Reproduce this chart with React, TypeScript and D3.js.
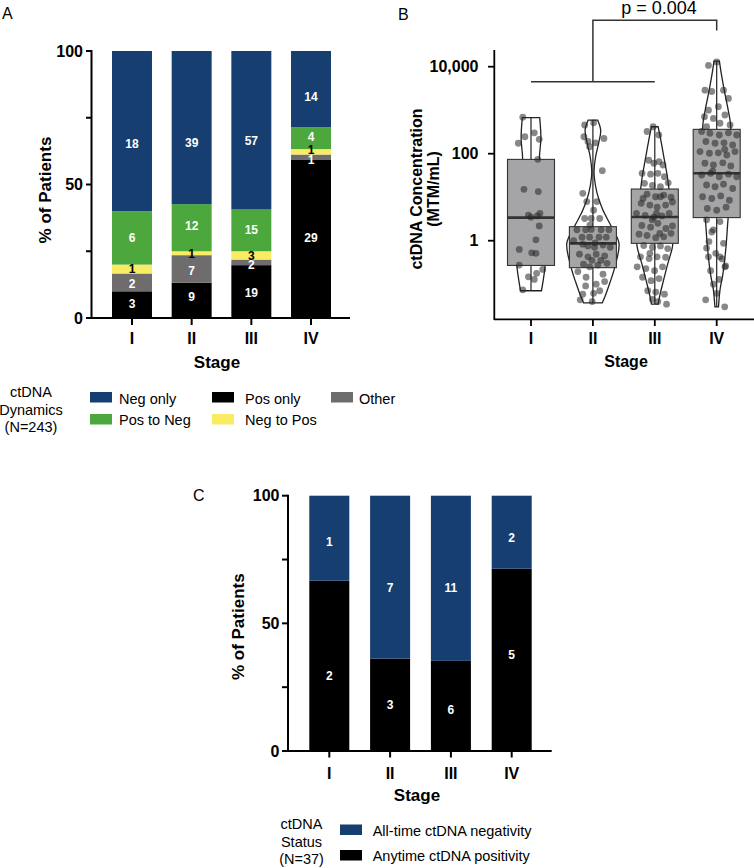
import React from 'react';
import * as d3 from 'd3';

// ---------- shared ----------
const stages = ['I', 'II', 'III', 'IV'];

// ---------- Panel A: ctDNA dynamics (counts per stage) ----------
const dynamicsKeys = ['posOnly', 'other', 'negToPos', 'posToNeg', 'negOnly'];
const dynamicsNames = ['Pos only', 'Other', 'Neg to Pos', 'Pos to Neg', 'Neg only'];
const posOnly = [3, 9, 19, 29];
const other = [2, 7, 2, 1];
const negToPos = [1, 1, 3, 1];
const posToNeg = [6, 12, 15, 4];
const negOnly = [18, 39, 57, 14];
// label positions (% of bar), as placed in the figure
const labelPctA = [
  [5.5, 12.8, 18.6, 29.9, 65.2],
  [8.0, 17.6, 24.0, 34.5, 65.8],
  [9.3, 19.9, 23.3, 33.0, 66.3],
  [30.2, 59.4, 62.9, 67.9, 82.9],
];
const percentTicks = [0, 25, 50, 75, 100];
const percentTickLabels = ['0', '', '50', '', '100'];

// ---------- Panel B: ctDNA concentration (log10 MTM/mL) ----------
const concTicks = [1, 100, 10000];
const q1 = [0.27, 0.24, 0.87, 3.4];
const medians = [3.4, 0.87, 3.5, 35.5];
const q3 = [74, 2.1, 15.4, 363];
// violin outline: [log10 value, relative half width]
const violinI = [[2.83, 0.29], [2.35, 0.33], [1.9, 0.28], [1.0, 0.33], [0, 0.43], [-0.56, 0.47], [-0.85, 0.42], [-1.15, 0.35]];
const violinII = [[2.77, 0.16], [2.54, 0.26], [2.24, 0.19], [1.93, 0.09], [1.63, 0.04], [1.47, 0.045], [1.09, 0.14], [0.71, 0.33], [0.32, 0.62], [-0.06, 0.87], [-0.63, 0.72], [-0.98, 0.56], [-1.29, 0.4], [-1.43, 0.31]];
const violinIII = [[2.62, 0.11], [2.28, 0.21], [1.89, 0.31], [1.51, 0.41], [1.2, 0.47], [0.59, 0.57], [-0.06, 0.6], [-0.17, 0.58], [-0.56, 0.42], [-0.94, 0.28], [-1.25, 0.17], [-1.46, 0.11]];
const violinIV = [[4.13, 0.09], [3.81, 0.16], [3.5, 0.24], [3.12, 0.35], [2.74, 0.45], [2.58, 0.47], [1.5, 0.53], [0.51, 0.38], [-0.14, 0.31], [-0.75, 0.21], [-1.13, 0.11], [-1.52, 0.06]];
// points: [jitter (fraction of box half width), log10 value]
const dotsI = [[-0.35, 2.84], [0.14, 2.48], [-0.26, 2.39], [0.35, 2.33], [-0.54, 2.24], [0.29, 1.87], [-0.3, 1.18], [0.31, 1.13], [-0.11, 0.59], [0, 0.54], [0.38, 0.63], [0.27, 0.57], [0.35, 0.34], [0.21, 0.02], [-0.5, -0.2], [0.03, -0.28], [0.21, -0.29], [-0.5, -0.56], [0.5, -0.66], [0.24, -0.75], [-0.11, -0.83], [0.14, -0.89], [-0.35, -1.13]];
const dotsII = [[-0.35, 2.66], [0.03, 2.71], [-0.38, 2.39], [-0.21, 2.28], [0.11, 2.25], [0.47, 2.35], [-0.14, 2.16], [0.4, 1.61], [-0.26, 0.9], [0.17, 0.9], [-0.43, 1.09], [0.03, 0.7], [-0.35, 0.51], [-0.07, 0.51], [0.29, 0.51], [-0.68, 0.25], [-0.31, 0.25], [-0.07, 0.26], [0.35, 0.25], [0.68, 0.25], [-0.46, 0.08], [-0.14, 0.08], [0.26, 0.08], [0.57, 0.08], [-0.82, 0.0], [-0.43, -0.08], [-0.21, -0.12], [0.07, -0.15], [0.43, -0.1], [0.74, -0.15], [-0.57, -0.31], [-0.21, -0.37], [0.14, -0.31], [0.5, -0.35], [-0.4, -0.54], [-0.14, -0.6], [0.21, -0.56], [0.6, -0.52], [-0.64, -0.71], [0.43, -0.77], [-0.29, -0.84], [0.14, -1.0], [0.5, -0.94], [-0.31, -1.04], [-0.43, -1.23], [0.03, -1.21], [0.29, -1.15], [-0.54, -1.36], [-0.03, -1.4], [-0.13, 0.36], [0.09, -0.05], [-0.04, -0.45], [0.34, -0.45]];
const dotsIII = [[-0.33, 2.51], [-0.07, 2.62], [0.17, 2.43], [-0.26, 1.85], [-0.04, 1.78], [0.18, 1.82], [0.35, 1.74], [-0.54, 1.55], [-0.18, 1.53], [0.13, 1.55], [0.41, 1.47], [-0.44, 1.32], [-0.1, 1.27], [0.24, 1.24], [0.57, 1.33], [-0.33, 1.07], [0.03, 1.01], [0.38, 1.05], [0.69, 1.0], [-0.58, 0.86], [-0.21, 0.82], [0.1, 0.77], [0.46, 0.82], [0.75, 0.89], [-0.78, 0.63], [-0.41, 0.58], [-0.04, 0.54], [0.3, 0.57], [0.61, 0.63], [-0.55, 0.35], [-0.18, 0.31], [0.13, 0.4], [0.47, 0.28], [0.75, 0.34], [-0.67, 0.15], [-0.33, 0.12], [0.04, 0.07], [0.38, 0.09], [0.69, 0.17], [-0.47, -0.11], [-0.1, -0.15], [0.24, -0.12], [0.55, -0.18], [-0.61, -0.37], [-0.24, -0.41], [0.1, -0.37], [0.46, -0.38], [-0.75, -0.6], [-0.38, -0.64], [-0.01, -0.69], [0.33, -0.6], [-0.52, -0.84], [-0.16, -0.92], [0.18, -0.87], [-0.3, -1.15], [0.04, -1.18], [0.41, -1.23], [-0.1, -1.35], [0.5, -1.46], [0.13, -1.4], [-0.5, 0.97], [0.24, 1.01], [-0.11, 0.48], [0.21, 0.17], [-0.21, -0.29], [0.07, 0.63]];
const dotsIV = [[0, 4.11], [-0.35, 4.03], [-0.5, 3.46], [-0.21, 3.43], [0.29, 3.46], [0.5, 3.27], [-0.35, 3.0], [0.07, 3.08], [-0.52, 2.85], [-0.14, 2.81], [0.35, 2.89], [0.57, 2.66], [-0.43, 2.62], [0.14, 2.7], [-0.64, 2.51], [-0.29, 2.47], [0.11, 2.43], [0.5, 2.48], [0.85, 2.43], [-0.46, 2.28], [-0.07, 2.24], [0.31, 2.25], [0.68, 2.2], [-0.71, 2.05], [-0.31, 2.01], [0.07, 2.02], [0.43, 1.97], [0.78, 2.05], [-0.5, 1.78], [-0.14, 1.74], [0.26, 1.79], [0.6, 1.72], [-0.64, 1.51], [-0.26, 1.55], [0.11, 1.47], [0.5, 1.53], [0.85, 1.47], [-0.43, 1.28], [-0.07, 1.24], [0.29, 1.3], [0.68, 1.2], [-0.6, 1.01], [-0.21, 0.97], [0.17, 1.03], [0.54, 0.93], [-0.4, 0.74], [0, 0.7], [0.4, 0.77], [-0.17, 1.6], [0.34, 2.1], [-0.43, 0.48], [0.14, 0.44], [-0.14, 0.25], [-0.33, -0.02], [-0.43, -0.17], [0.29, -0.06], [-0.04, -0.29], [0.23, -0.42], [0.38, -0.58], [-0.26, -0.69], [0.1, -0.89], [-0.14, -1.0], [-0.47, -1.36], [0.34, -1.52], [0.14, -0.37], [-0.35, -0.37], [0.35, -0.6], [0, -1.21], [-0.21, 0.2]];
const violins = [violinI, violinII, violinIII, violinIV];
const dots = [dotsI, dotsII, dotsIII, dotsIV];
const pText = 'p = 0.004';
// bracket levels (log10 of concentration scale)
const bracketLow = 3.655;
const bracketHigh = 5.07;
const bracketEnd = 4.83;

// ---------- Panel C: ctDNA status ----------
const posCounts = [2, 3, 6, 5];
const negCounts = [1, 7, 11, 2];
const posPct = [66.7, 36.2, 35.3, 71.4];
const labelPctCneg = [81.8, 64.0, 64.0, 83.6];
const labelPctCpos = [29.5, 18.0, 16.1, 37.9];

// ---------- styles ----------
const FONT = '"Liberation Sans", Arial, Helvetica, sans-serif';
const colors: Record<string, string> = {
  negOnly: '#173e70',
  posToNeg: '#4ca83d',
  negToPos: '#f9ec62',
  posOnly: '#000000',
  other: '#6e6c6d',
};
const labelColor: Record<string, string> = {
  negOnly: '#fff', posToNeg: '#fff', negToPos: '#000', posOnly: '#fff', other: '#fff',
};

function PanelA() {
  const x = d3.scaleBand<string>().domain(stages).range([112, 331]).paddingInner(0.33).paddingOuter(0);
  const y = d3.scaleLinear().domain([0, 100]).range([318, 51]);
  const rows = stages.map((s, i) => ({
    stage: s, posOnly: posOnly[i], other: other[i], negToPos: negToPos[i], posToNeg: posToNeg[i], negOnly: negOnly[i],
  }));
  const series = d3.stack<any>().keys(dynamicsKeys).offset(d3.stackOffsetExpand)(rows);
  return (
    <g>
      <text x={2} y={19} fontSize={16} fontFamily={FONT}>A</text>
      {series.map((ser, k) => ser.map((d, i) => (
        <rect key={ser.key + i} x={x(stages[i])} width={x.bandwidth()}
          y={y(d[1] * 100)} height={y(d[0] * 100) - y(d[1] * 100)} fill={colors[ser.key]} />
      )))}
      {series.map((ser, k) => ser.map((d, i) => (
        <text key={'l' + ser.key + i} x={(x(stages[i]) as number) + x.bandwidth() / 2}
          y={y(labelPctA[i][k])} dy="0.36em" textAnchor="middle" fontFamily={FONT}
          fontWeight="bold" fontSize={12} fill={labelColor[ser.key]}>
          {(rows[i] as any)[ser.key]}
        </text>
      )))}
      {/* axes */}
      <line x1={91.5} x2={91.5} y1={y(100) - 1} y2={y(0)} stroke="#000" strokeWidth={2} />
      <line x1={86} x2={350} y1={y(0)} y2={y(0)} stroke="#000" strokeWidth={2} />
      {percentTicks.map((t, i) => (
        <g key={t}>
          <line x1={86} x2={91.5} y1={y(t)} y2={y(t)} stroke="#000" strokeWidth={2} />
          <text x={83} y={y(t)} dy="0.36em" textAnchor="end" fontFamily={FONT} fontWeight="bold" fontSize={16}>{percentTickLabels[i]}</text>
        </g>
      ))}
      {stages.map(s => (
        <g key={s}>
          <line x1={(x(s) as number) + x.bandwidth() / 2} x2={(x(s) as number) + x.bandwidth() / 2} y1={y(0)} y2={y(0) + 7} stroke="#000" strokeWidth={2} />
          <text x={(x(s) as number) + x.bandwidth() / 2} y={344} textAnchor="middle" fontFamily={FONT} fontWeight="bold" fontSize={16}>{s}</text>
        </g>
      ))}
      <text x={217} y={368} textAnchor="middle" fontFamily={FONT} fontWeight="bold" fontSize={17}>Stage</text>
      <text transform="translate(45,190) rotate(-90)" dy="0.36em" textAnchor="middle" fontFamily={FONT} fontWeight="bold" fontSize={17}>% of Patients</text>
      {/* legend */}
      {['ctDNA', 'Dynamics', '(N=243)'].map((t, i) => (
        <text key={t} x={31} y={397 + i * 17.5} textAnchor="middle" fontFamily={FONT} fontSize={14.5}>{t}</text>
      ))}
      {[
        { key: 'negOnly', x: 90, row: 0 }, { key: 'posOnly', x: 212, row: 0 }, { key: 'other', x: 331, row: 0 },
        { key: 'posToNeg', x: 90, row: 1 }, { key: 'negToPos', x: 212, row: 1 },
      ].map(it => (
        <g key={it.key}>
          <rect x={it.x} y={392 + it.row * 22} width={22} height={10.5} fill={colors[it.key]} />
          <text x={it.x + (it.x === 90 ? 29 : it.x === 212 ? 33 : 28)} y={404 + it.row * 20.5} fontFamily={FONT} fontSize={14.5}>
            {dynamicsNames[dynamicsKeys.indexOf(it.key)]}
          </text>
        </g>
      ))}
    </g>
  );
}

function PanelB() {
  const x = d3.scalePoint<string>().domain(stages).range([531, 716.7]);
  const y = d3.scaleLog().domain([Math.pow(10, -1.8), Math.pow(10, 4.384)]).range([319, 50]);
  const w = d3.scaleLinear().domain([0, 1]).range([0, 30]);
  const boxHalf = 23.5;
  const fmt = d3.format(',');
  const yl = (l: number) => y(Math.pow(10, l));
  return (
    <g>
      <text x={398} y={20} fontSize={16} fontFamily={FONT}>B</text>
      {stages.map((s, i) => {
        const cx = x(s) as number;
        const prof = violins[i];
        const area = d3.area<number[]>()
          .y(d => yl(d[0]))
          .x0(d => cx - w(d[1]))
          .x1(d => cx + w(d[1]))
          .curve(d3.curveCatmullRom);
        return (
          <g key={s}>
            <path d={area(prof) as string} fill="#fff" stroke="#222" strokeWidth={1.3} />
            <line x1={cx} x2={cx} y1={yl(prof[0][0])} y2={yl(prof[prof.length - 1][0])} stroke="#222" strokeWidth={1.2} />
            <rect x={cx - boxHalf} width={boxHalf * 2} y={y(q3[i])} height={y(q1[i]) - y(q3[i])} fill="#a5a4a6" stroke="#333" strokeWidth={1.1} />
            <line x1={cx - boxHalf} x2={cx + boxHalf} y1={y(medians[i])} y2={y(medians[i])} stroke="#333" strokeWidth={2.6} />
          </g>
        );
      })}
      {stages.map((s, i) => dots[i].map((d, j) => (
        <circle key={s + j} cx={(x(s) as number) + d[0] * boxHalf} cy={yl(d[1])} r={3.4} fill="#262626" fillOpacity={0.55} />
      )))}
      {/* axes */}
      <line x1={494.3} x2={494.3} y1={50} y2={320} stroke="#000" strokeWidth={1.8} />
      <line x1={494} x2={754} y1={319.3} y2={319.3} stroke="#000" strokeWidth={1.8} />
      {concTicks.map(t => (
        <g key={t}>
          <line x1={488} x2={494.3} y1={y(t)} y2={y(t)} stroke="#000" strokeWidth={1.8} />
          <text x={478.5} y={y(t)} dy="0.36em" textAnchor="end" fontFamily={FONT} fontWeight="bold" fontSize={16}>{fmt(t)}</text>
        </g>
      ))}
      {stages.map(s => (
        <g key={s}>
          <line x1={x(s)} x2={x(s)} y1={319.3} y2={326} stroke="#000" strokeWidth={1.8} />
          <text x={x(s)} y={343.5} textAnchor="middle" fontFamily={FONT} fontWeight="bold" fontSize={16}>{s}</text>
        </g>
      ))}
      <text x={626} y={367} textAnchor="middle" fontFamily={FONT} fontWeight="bold" fontSize={16}>Stage</text>
      <text transform="translate(416.7,189) rotate(-90)" dy="0.36em" textAnchor="middle" fontFamily={FONT} fontWeight="bold" fontSize={16}>ctDNA Concentration</text>
      <text transform="translate(433.5,189) rotate(-90)" dy="0.36em" textAnchor="middle" fontFamily={FONT} fontWeight="bold" fontSize={16}>(MTM/mL)</text>
      {/* significance bracket */}
      <path d={`M${x('I')},${yl(bracketLow)}H${x('III')}M${x('II')},${yl(bracketLow)}V${yl(bracketHigh)}H${x('IV')}V${yl(bracketEnd)}`}
        fill="none" stroke="#333" strokeWidth={1.5} />
      <text x={659} y={14} textAnchor="middle" fontFamily={FONT} fontSize={18}>{pText}</text>
    </g>
  );
}

function PanelC() {
  const x = d3.scaleBand<string>().domain(stages).range([309.3, 531.7]).paddingInner(0.342).paddingOuter(0);
  const y = d3.scaleLinear().domain([0, 100]).range([751, 495.7]);
  const rows = stages.map((s, i) => ({ stage: s, pos: posPct[i], neg: 100 - posPct[i] }));
  const series = d3.stack<any>().keys(['pos', 'neg'])(rows);
  const fills: Record<string, string> = { pos: '#000', neg: colors.negOnly };
  return (
    <g>
      <text x={193} y={501} fontSize={16} fontFamily={FONT}>C</text>
      {series.map(ser => ser.map((d, i) => (
        <rect key={ser.key + i} x={x(stages[i])} width={x.bandwidth()} y={y(d[1])} height={y(d[0]) - y(d[1])} fill={fills[ser.key]} />
      )))}
      {stages.map((s, i) => (
        <g key={s}>
          <text x={(x(s) as number) + x.bandwidth() / 2} y={y(labelPctCneg[i])} dy="0.36em" textAnchor="middle" fontFamily={FONT} fontWeight="bold" fontSize={12} fill="#fff">{negCounts[i]}</text>
          <text x={(x(s) as number) + x.bandwidth() / 2} y={y(labelPctCpos[i])} dy="0.36em" textAnchor="middle" fontFamily={FONT} fontWeight="bold" fontSize={12} fill="#fff">{posCounts[i]}</text>
        </g>
      ))}
      <line x1={288} x2={288} y1={y(100) - 1} y2={y(0)} stroke="#000" strokeWidth={2} />
      <line x1={282} x2={551.7} y1={y(0)} y2={y(0)} stroke="#000" strokeWidth={2} />
      {percentTicks.map((t, i) => (
        <g key={t}>
          <line x1={282} x2={288} y1={y(t)} y2={y(t)} stroke="#000" strokeWidth={2} />
          <text x={279.5} y={y(t)} dy="0.36em" textAnchor="end" fontFamily={FONT} fontWeight="bold" fontSize={16}>{percentTickLabels[i]}</text>
        </g>
      ))}
      {stages.map(s => (
        <g key={s}>
          <line x1={(x(s) as number) + x.bandwidth() / 2} x2={(x(s) as number) + x.bandwidth() / 2} y1={y(0)} y2={y(0) + 6.5} stroke="#000" strokeWidth={2} />
          <text x={(x(s) as number) + x.bandwidth() / 2} y={778.5} textAnchor="middle" fontFamily={FONT} fontWeight="bold" fontSize={16}>{s}</text>
        </g>
      ))}
      <text x={417} y={801} textAnchor="middle" fontFamily={FONT} fontWeight="bold" fontSize={17}>Stage</text>
      <text transform="translate(237.5,626.7) rotate(-90)" dy="0.36em" textAnchor="middle" fontFamily={FONT} fontWeight="bold" fontSize={17}>% of Patients</text>
      {['ctDNA', 'Status', '(N=37)'].map((t, i) => (
        <text key={t} x={301.5} y={829.3 + i * 17.4} textAnchor="middle" fontFamily={FONT} fontSize={14.5}>{t}</text>
      ))}
      <rect x={340} y={824.5} width={22} height={10.5} fill={colors.negOnly} />
      <text x={372.7} y={835.5} fontFamily={FONT} fontSize={14.5}>All-time ctDNA negativity</text>
      <rect x={340} y={850} width={22} height={10.5} fill="#000" />
      <text x={372.7} y={861} fontFamily={FONT} fontSize={14.5}>Anytime ctDNA positivity</text>
    </g>
  );
}

export default function App() {
  return (
    <svg width={754} height={868} viewBox="0 0 754 868"
      style={{ position: 'absolute', left: 0, top: 0, background: '#fff' }}>
      <rect width={754} height={868} fill="#fff" />
      <PanelA />
      <PanelB />
      <PanelC />
    </svg>
  );
}
